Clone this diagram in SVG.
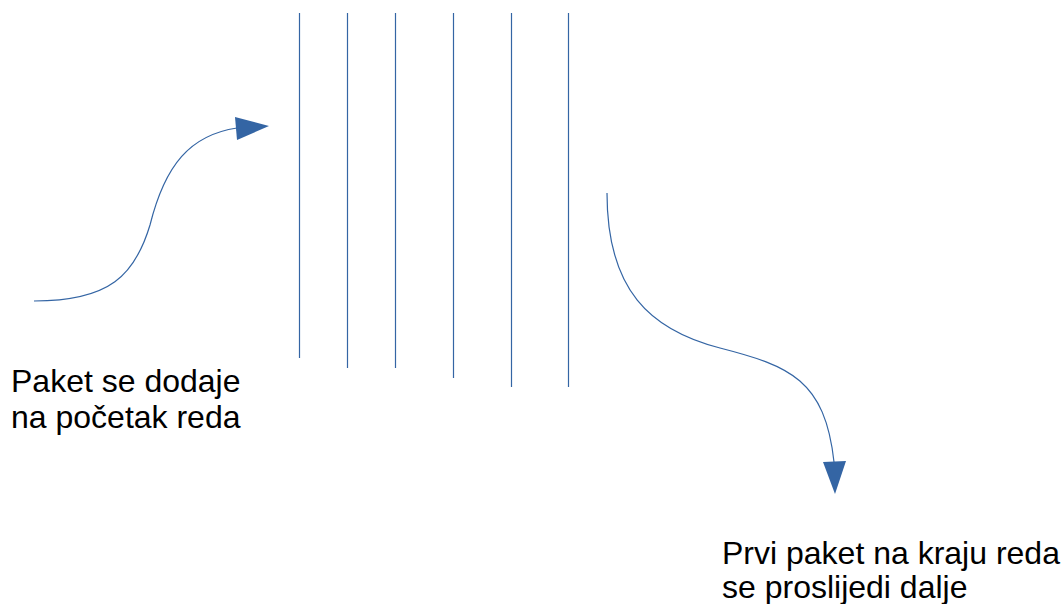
<svg xmlns="http://www.w3.org/2000/svg" width="1064" height="604" viewBox="0 0 1064 604">
<style>
.ln{stroke:#3465a4;stroke-width:1.2;fill:none}
.hd{fill:#3465a4;stroke:none}
.tx{font-family:"Liberation Sans",Arial,sans-serif;font-size:32px;fill:#000}
</style>
<rect width="1064" height="604" fill="#fff"/>
<g id="queue">
<line class="ln" x1="299.5" y1="13" x2="299.5" y2="358"/>
<line class="ln" x1="347.5" y1="13" x2="347.5" y2="368"/>
<line class="ln" x1="395.5" y1="13" x2="395.5" y2="368"/>
<line class="ln" x1="453.5" y1="13" x2="453.5" y2="378"/>
<line class="ln" x1="511.5" y1="13" x2="511.5" y2="387"/>
<line class="ln" x1="568.5" y1="13" x2="568.5" y2="387"/>
</g>
<g id="connectors">
<path class="ln" d="M34,301 C110,301 135,275 150,225 C165,165 190,135 237,128"/>
<polygon class="hd" points="235,117 237,140 269,126"/>
<path class="ln" d="M607,193 C607,290 650,330 720,348 C790,366 825,380 834,462"/>
<polygon class="hd" points="823,462 846,461 835,494"/>
</g>
<g id="label-in">
<text class="tx" x="11" y="392">Paket se dodaje</text>
<text class="tx" x="11" y="428">na početak reda</text>
</g>
<g id="label-out">
<text class="tx" x="722" y="564">Prvi paket na kraju reda</text>
<text class="tx" x="722" y="598">se proslijedi dalje</text>
</g>
</svg>
